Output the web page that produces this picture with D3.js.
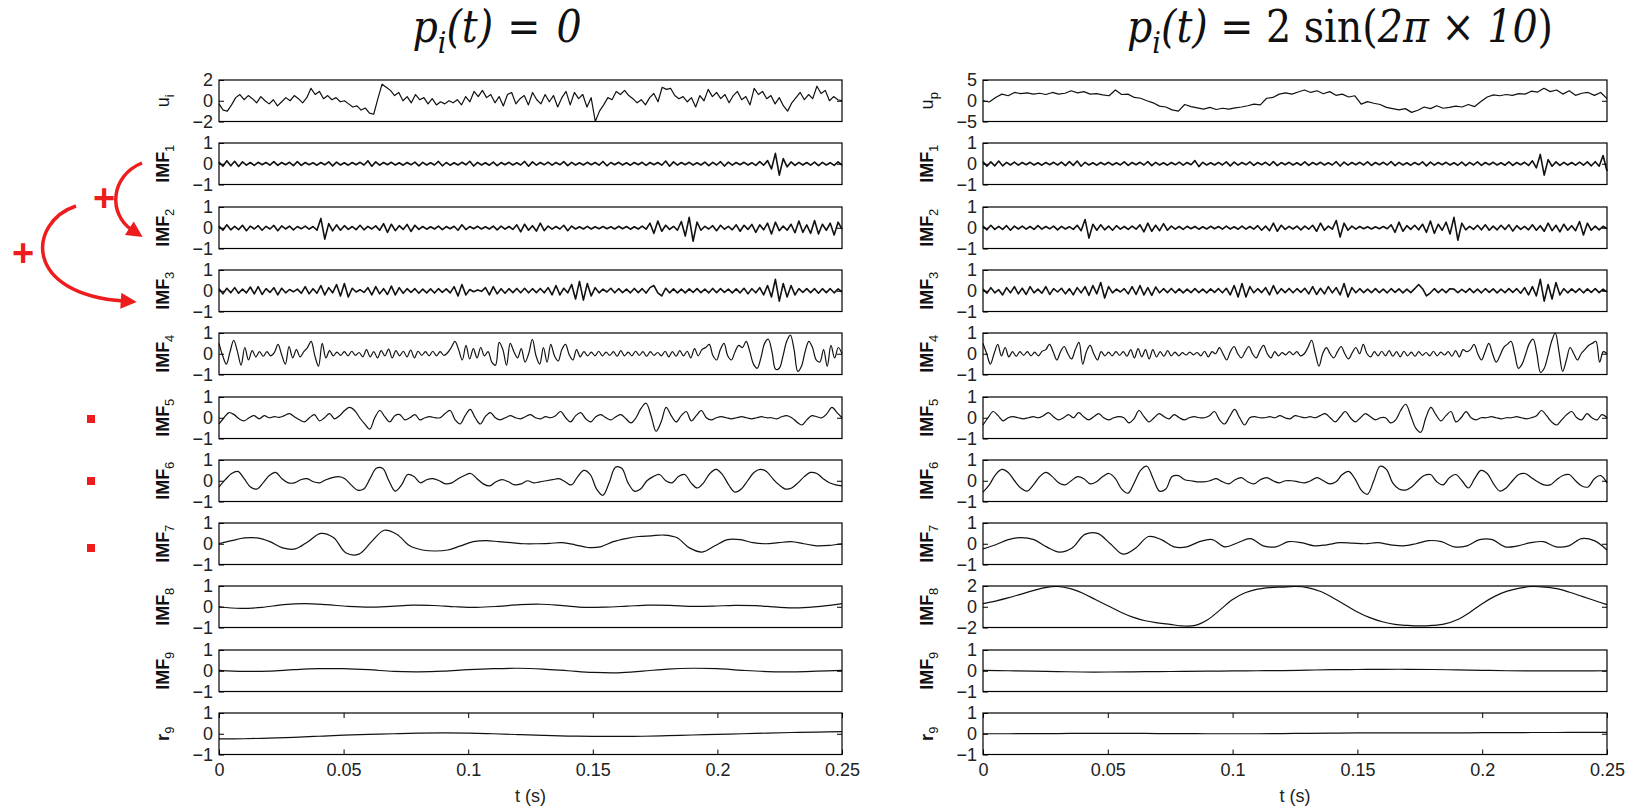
<!DOCTYPE html>
<html>
<head>
<meta charset="utf-8">
<script src="https://cdn.jsdelivr.net/npm/d3@7"></script>
<style>
  body { margin: 0; background: #fff; }
  svg { display: block; }
</style>
</head>
<body>
<script>
var W = 1630, H = 806;

// time axis
var tDomain = [0, 0.25];
var xTicks = [0, 0.05, 0.1, 0.15, 0.2, 0.25];
var xTickLabels = ['0', '0.05', '0.1', '0.15', '0.2', '0.25'];

// ---- left column, p_i(t) = 0 ----
var uLeft = [-0.3,-0.9,-1.0,-0.4,0.3,0.6,0.1,0.5,0.2,-0.2,
  0.4,0.0,-0.3,0.1,-0.5,-0.1,0.3,0.0,0.5,0.2,
  -0.2,0.3,1.2,0.6,0.9,0.2,0.5,0.1,0.3,-0.1,
  0.0,-0.3,-0.6,-0.5,-0.9,-0.7,-1.2,-1.3,0.2,1.6,
  1.3,1.0,0.5,0.8,0.0,0.4,-0.2,0.6,0.1,0.3,
  -0.3,0.2,-0.4,-0.1,-0.3,0.0,-0.2,0.1,-0.4,0.4,
  -0.1,0.9,0.4,1.0,0.3,0.6,-0.2,0.4,-0.5,0.6,
  0.8,-0.3,0.2,0.5,-0.4,0.8,0.1,-0.3,0.6,-0.1,
  0.5,-0.6,0.3,0.9,-0.4,0.8,0.2,0.6,-0.6,0.3,
  -2.0,-1.0,-0.4,0.3,0.1,0.9,0.6,1.0,0.5,0.2,
  -0.2,0.1,-0.4,0.3,0.7,-0.1,1.3,1.1,1.2,0.5,
  0.2,0.4,-0.1,0.3,-0.6,0.5,0.0,1.1,0.4,0.8,
  0.2,0.6,-0.2,0.5,0.9,0.1,0.4,-0.4,1.2,0.6,
  0.9,0.2,0.5,-0.3,0.3,-0.5,-1.0,-0.2,0.3,0.8,
  0.1,0.6,0.2,1.4,0.7,1.0,0.0,0.4,0.1,0.0];

var imf1Left = [0.08,-0.12,0.14,-0.1,0.12,-0.13,0.09,-0.07,0.06,-0.08,
  0.07,-0.05,0.06,-0.07,0.1,-0.08,0.06,-0.05,0.07,-0.09,
  0.1,-0.08,0.06,-0.05,0.05,-0.07,0.06,-0.05,0.09,-0.1,
  0.08,-0.06,0.05,-0.07,0.06,-0.05,0.07,-0.06,0.14,-0.12,
  0.09,-0.07,0.06,-0.05,0.07,-0.06,0.05,-0.07,0.06,-0.05,
  0.08,-0.1,0.07,-0.06,0.05,-0.06,0.11,-0.1,0.06,-0.07,
  0.05,-0.06,0.07,-0.05,0.12,-0.11,0.07,-0.06,0.05,-0.07,
  0.08,-0.09,0.06,-0.05,0.07,-0.06,0.05,-0.06,0.11,-0.12,
  0.09,-0.07,0.06,-0.05,0.08,-0.07,0.06,-0.05,0.1,-0.09,
  0.07,-0.06,0.05,-0.06,0.07,-0.05,0.06,-0.07,0.11,-0.1,
  0.06,-0.05,0.07,-0.06,0.05,-0.07,0.06,-0.05,0.07,-0.08,
  0.06,-0.05,0.06,-0.07,0.13,-0.12,0.09,-0.07,0.06,-0.05,
  0.07,-0.06,0.05,-0.06,0.08,-0.09,0.07,-0.06,0.1,-0.11,
  0.08,-0.07,0.06,-0.05,0.07,-0.06,0.05,-0.08,0.1,-0.07,
  0.15,-0.25,0.5,-0.55,0.25,-0.15,0.09,-0.08,0.07,-0.06,
  0.06,-0.07,0.08,-0.09,0.07,-0.06,0.05,-0.08,0.09,-0.07];

var imf2Left = [0.08,-0.12,0.14,-0.1,0.07,-0.09,0.12,-0.14,0.08,-0.06,
  0.1,-0.12,0.07,-0.06,0.11,-0.14,0.09,-0.06,0.08,-0.1,
  0.06,-0.05,0.08,-0.07,0.06,-0.12,0.45,-0.55,0.2,-0.15,
  0.14,-0.12,0.1,-0.08,0.06,-0.09,0.12,-0.1,0.07,-0.06,
  0.09,-0.12,0.2,-0.22,0.17,-0.14,0.1,-0.08,0.16,-0.18,
  0.12,-0.08,0.06,-0.07,0.05,-0.06,0.08,-0.09,0.06,-0.05,
  0.07,-0.12,0.14,-0.09,0.06,-0.05,0.07,-0.06,0.05,-0.06,
  0.08,-0.1,0.08,-0.07,0.06,-0.08,0.14,-0.2,0.17,-0.12,
  0.1,-0.16,0.22,-0.14,0.08,-0.07,0.06,-0.06,0.12,-0.14,
  0.08,-0.06,0.05,-0.06,0.07,-0.06,0.05,-0.05,0.06,-0.05,
  0.05,-0.06,0.07,-0.05,0.06,-0.07,0.05,-0.06,0.08,-0.07,
  0.22,-0.27,0.32,-0.17,0.12,-0.08,0.07,-0.12,0.3,-0.4,
  0.5,-0.65,0.27,-0.12,0.07,-0.06,0.1,-0.14,0.12,-0.07,
  0.07,-0.1,0.14,-0.17,0.12,-0.08,0.16,-0.22,0.14,-0.1,
  0.22,-0.3,0.27,-0.14,0.08,-0.12,0.17,-0.24,0.32,-0.22,
  0.14,-0.27,0.35,-0.3,0.17,-0.12,0.22,-0.35,0.27,-0.07];

var imf3Left = [0.1,-0.15,0.12,-0.1,0.15,-0.12,0.08,-0.1,0.18,-0.15,
  0.2,-0.18,0.1,-0.08,0.15,-0.2,0.12,-0.1,0.06,-0.05,
  0.08,-0.12,0.2,-0.15,0.1,-0.12,0.25,-0.2,0.15,-0.1,
  0.3,-0.25,0.35,-0.3,0.12,-0.06,0.05,-0.08,0.15,-0.2,
  0.2,-0.15,0.1,-0.18,0.22,-0.2,0.15,-0.12,0.1,-0.08,
  0.1,-0.12,0.08,-0.1,0.09,-0.11,0.1,-0.08,0.09,-0.1,
  0.2,-0.25,0.3,-0.2,0.06,-0.05,0.04,-0.03,0.15,-0.2,
  0.2,-0.15,0.1,-0.12,0.1,-0.09,0.11,-0.1,0.12,-0.1,
  0.1,-0.09,0.11,-0.1,0.15,-0.2,0.25,-0.2,0.12,-0.1,
  0.3,-0.4,0.45,-0.45,0.35,-0.25,0.15,-0.1,0.08,-0.06,
  0.12,-0.1,0.1,-0.09,0.08,-0.1,0.11,-0.09,0.1,-0.11,
  0.15,0.25,-0.1,-0.25,0.12,-0.1,0.09,-0.1,0.08,-0.1,
  0.09,-0.08,0.1,-0.09,0.08,-0.1,0.11,-0.09,0.1,-0.08,
  0.08,-0.1,0.09,-0.1,0.12,-0.15,0.1,-0.1,0.15,-0.2,
  0.25,-0.3,0.55,-0.5,0.35,-0.3,0.25,-0.2,0.1,-0.08,
  0.1,-0.09,0.1,-0.12,0.1,-0.09,0.1,-0.1,0.09,-0.06];

var imf4Left = [0.5,-0.1,-0.5,0.1,0.65,0.1,-0.55,0.3,-0.3,0.15,
  -0.15,0.1,-0.12,0.1,-0.1,0.05,0.45,-0.05,-0.5,0.35,
  -0.2,0.2,-0.15,0.1,0.3,0.6,-0.1,-0.6,0.5,-0.2,
  0.15,-0.1,0.08,-0.08,0.1,-0.1,0.12,-0.08,0.06,-0.15,
  0.2,-0.15,0.1,-0.2,0.15,-0.1,0.22,-0.2,0.15,-0.1,
  0.12,-0.15,0.18,-0.2,0.12,-0.08,0.1,-0.1,0.12,-0.1,
  0.1,-0.08,0.05,0.3,0.6,0.2,-0.3,0.4,-0.25,0.25,
  -0.2,0.3,-0.1,0.1,-0.4,-0.55,0.55,0.2,-0.55,0.5,
  0.1,-0.2,0.25,-0.4,0.0,0.7,-0.1,-0.5,0.3,-0.4,
  0.45,-0.1,-0.35,0.2,0.45,-0.05,-0.3,0.2,-0.15,0.1,
  -0.1,0.08,-0.1,0.12,-0.1,0.08,-0.08,0.1,-0.12,0.15,
  -0.1,0.08,-0.1,0.12,-0.08,0.1,-0.12,0.1,-0.08,0.06,
  -0.1,0.12,-0.15,0.1,-0.12,0.15,-0.1,0.12,-0.2,0.25,
  -0.1,0.2,0.3,0.45,-0.1,-0.3,0.2,0.5,-0.1,-0.3,
  0.1,0.4,0.3,0.6,0.1,-0.5,-0.7,-0.2,0.5,0.7,
  0.1,-0.75,-0.7,-0.1,0.6,0.9,0.2,-0.85,-0.6,0.1,
  0.6,0.3,-0.3,-0.4,0.2,-0.6,0.4,-0.2,0.3,0.0];

var imf5Left = [-0.3,0.0,0.25,0.15,-0.05,-0.15,0.0,0.1,-0.05,0.1,
  0.0,0.05,0.02,0.1,0.2,0.05,-0.1,-0.2,0.0,0.15,
  -0.15,0.0,0.2,-0.05,0.1,0.35,0.5,0.35,0.0,-0.3,
  -0.55,0.0,0.35,0.05,-0.2,0.1,0.15,-0.1,0.0,0.15,
  -0.1,0.0,0.05,0.0,0.0,0.2,0.35,-0.1,-0.3,0.1,
  0.4,0.0,-0.3,0.05,0.25,0.0,-0.1,0.0,0.1,0.0,
  -0.05,0.05,0.15,0.0,-0.05,0.05,0.0,0.1,0.3,0.0,
  -0.2,0.1,0.25,-0.05,-0.2,0.05,0.15,0.0,-0.1,0.05,
  0.15,-0.05,-0.25,0.0,0.45,0.7,0.1,-0.65,-0.2,0.5,
  0.1,-0.2,0.1,0.3,-0.15,0.1,0.35,0.0,-0.1,0.0,
  0.05,0.0,-0.05,0.0,0.05,0.0,-0.05,0.0,0.05,0.0,
  0.0,-0.05,0.05,0.1,0.0,-0.2,-0.35,-0.1,0.1,0.05,
  0.0,0.2,0.5,0.25,0.0];

var imf6Left = [-0.3,0.05,0.35,0.45,0.1,-0.3,-0.4,-0.1,0.25,0.4,
  0.1,-0.1,-0.1,0.05,0.1,-0.05,-0.1,0.05,0.15,0.2,
  0.1,-0.2,-0.45,-0.4,0.1,0.6,0.6,0.0,-0.5,-0.2,
  0.3,0.2,-0.1,0.05,0.1,0.0,-0.15,-0.1,0.1,0.25,
  0.35,0.1,-0.15,-0.25,-0.05,0.05,-0.05,-0.2,-0.15,0.0,
  -0.1,-0.05,0.0,0.05,0.1,-0.05,-0.2,0.2,0.5,0.3,
  -0.4,-0.7,-0.1,0.65,0.6,-0.1,-0.5,-0.4,0.0,0.2,
  0.3,0.0,-0.1,0.2,0.3,-0.1,-0.35,-0.1,0.35,0.55,
  0.3,-0.2,-0.55,-0.4,0.0,0.4,0.55,0.45,0.1,-0.2,
  -0.4,-0.35,-0.1,0.2,0.4,0.35,0.1,-0.1,-0.2,-0.25];

var imf7Left = [0.0,0.15,0.28,0.28,0.1,-0.2,-0.25,0.1,0.5,0.3,
  -0.45,-0.5,0.1,0.65,0.45,-0.1,-0.3,-0.35,-0.3,-0.1,
  0.1,0.15,0.1,0.05,0.0,0.0,0.02,0.05,-0.05,-0.18,
  -0.15,0.1,0.25,0.35,0.38,0.42,0.3,-0.2,-0.4,-0.1,
  0.2,0.2,0.05,0.0,0.05,0.1,0.0,-0.1,-0.08,0.0];

var imf8Left = [0.0,-0.08,-0.03,0.1,0.15,0.1,0.02,-0.02,0.02,0.08,
  0.06,0.0,-0.03,0.02,0.1,0.12,0.05,-0.03,-0.02,0.03,
  0.08,0.07,0.02,0.03,0.07,0.05,-0.02,-0.05,0.02,0.15];

var imf9Left = [0.02,-0.03,-0.02,0.05,0.1,0.1,0.05,-0.03,-0.05,-0.02,
  0.05,0.1,0.12,0.08,0.0,-0.08,-0.1,-0.02,0.08,0.12,
  0.1,0.02,-0.04,-0.05,-0.02,0.02];

var resLeft = [-0.25,-0.24,-0.21,-0.17,-0.12,-0.07,-0.03,0.0,0.03,0.04,
  0.03,0.0,-0.04,-0.08,-0.11,-0.13,-0.13,-0.12,-0.09,-0.06,
  -0.03,0.0,0.03,0.06,0.08,0.1];

// ---- right column, p_i(t) = 2 sin(2 pi 10 t) ----
var uRight = [0.0,-0.3,0.8,1.6,1.2,2.0,1.7,1.9,1.6,1.8,
  1.5,2.0,1.6,1.8,2.4,1.9,2.2,1.6,1.7,1.4,
  1.2,2.6,1.5,1.6,0.8,0.6,0.0,-0.5,-1.3,-1.5,
  -2.2,-2.5,-0.9,-1.4,-1.7,-2.0,-1.6,-2.1,-1.8,-2.0,
  -1.7,-1.5,-1.2,-0.8,-1.0,0.6,0.8,1.6,1.9,1.6,
  2.1,2.6,2.0,2.4,1.7,2.2,1.3,1.6,0.9,1.2,
  -0.8,-0.2,-0.6,-0.9,-1.6,-1.9,-2.2,-1.9,-2.8,-2.3,
  -1.5,-1.9,-1.2,-1.8,-1.6,-1.3,-1.5,-0.9,-1.4,-0.2,
  0.9,1.4,1.2,1.5,1.3,1.7,1.6,2.3,2.1,3.0,
  2.2,2.6,1.6,2.4,1.3,1.8,2.0,1.3,2.0,0.5];

var imf1Right = [0.1,-0.12,0.09,-0.1,0.13,-0.1,0.07,-0.06,0.08,-0.07,
  0.06,-0.05,0.07,-0.06,0.05,-0.07,0.06,-0.05,0.07,-0.06,
  0.08,-0.09,0.1,-0.08,0.13,-0.12,0.07,-0.06,0.05,-0.07,
  0.06,-0.05,0.07,-0.06,0.05,-0.06,0.09,-0.08,0.06,-0.05,
  0.07,-0.06,0.1,-0.09,0.07,-0.06,0.05,-0.07,0.06,-0.05,
  0.08,-0.07,0.06,-0.05,0.15,-0.14,0.07,-0.06,0.05,-0.06,
  0.07,-0.06,0.09,-0.1,0.08,-0.07,0.06,-0.05,0.09,-0.08,
  0.06,-0.05,0.07,-0.08,0.1,-0.09,0.06,-0.05,0.07,-0.06,
  0.05,-0.07,0.09,-0.08,0.06,-0.05,0.07,-0.06,0.05,-0.06,
  0.1,-0.11,0.08,-0.07,0.06,-0.05,0.07,-0.06,0.09,-0.08,
  0.06,-0.05,0.07,-0.06,0.1,-0.09,0.07,-0.06,0.05,-0.07,
  0.06,-0.05,0.09,-0.1,0.08,-0.07,0.06,-0.05,0.07,-0.06,
  0.05,-0.07,0.08,-0.09,0.07,-0.06,0.09,-0.08,0.06,-0.05,
  0.07,-0.06,0.05,-0.07,0.09,-0.08,0.06,-0.05,0.07,-0.08,
  0.14,-0.2,0.45,-0.55,0.2,-0.12,0.09,-0.08,0.07,-0.06,
  0.06,-0.07,0.08,-0.07,0.09,-0.1,0.1,-0.12,0.4,-0.35];

var imf2Right = [0.08,-0.1,0.12,-0.08,0.07,-0.08,0.1,-0.12,0.08,-0.06,
  0.08,-0.07,0.06,-0.08,0.1,-0.07,0.06,-0.05,0.08,-0.1,
  0.07,-0.06,0.05,-0.08,0.12,-0.14,0.4,-0.5,0.17,-0.12,
  0.14,-0.1,0.08,-0.12,0.1,-0.07,0.06,-0.08,0.08,-0.07,
  0.14,-0.2,0.22,-0.17,0.12,-0.14,0.2,-0.12,0.08,-0.07,
  0.06,-0.08,0.07,-0.05,0.06,-0.07,0.05,-0.06,0.07,-0.05,
  0.06,-0.07,0.08,-0.06,0.05,-0.07,0.08,-0.07,0.06,-0.07,
  0.1,-0.12,0.08,-0.14,0.22,-0.17,0.12,-0.08,0.07,-0.06,
  0.08,-0.1,0.08,-0.07,0.12,-0.17,0.22,-0.12,0.08,-0.07,
  0.35,-0.45,0.22,-0.12,0.08,-0.07,0.06,-0.05,0.05,-0.06,
  0.05,-0.05,0.06,-0.05,0.14,-0.22,0.27,-0.17,0.1,-0.08,
  0.12,-0.1,0.17,-0.22,0.32,-0.27,0.17,-0.12,0.27,-0.3,
  0.5,-0.6,0.22,-0.1,0.07,-0.08,0.12,-0.1,0.14,-0.12,
  0.08,-0.1,0.12,-0.08,0.14,-0.16,0.1,-0.08,0.07,-0.1,
  0.14,-0.12,0.1,-0.17,0.22,-0.14,0.12,-0.2,0.17,-0.12,
  0.1,-0.14,0.3,-0.35,0.22,-0.12,0.08,-0.1,0.07,-0.05];

var imf3Right = [0.08,-0.12,0.15,-0.1,0.05,-0.2,0.15,-0.1,0.2,-0.15,
  0.12,-0.18,0.2,-0.1,0.08,-0.12,0.2,-0.18,0.1,-0.06,
  0.12,-0.15,0.1,-0.2,0.15,-0.1,0.2,-0.22,0.25,-0.15,
  0.4,-0.35,0.2,-0.1,0.08,-0.06,0.1,-0.15,0.2,-0.18,
  0.25,-0.2,0.15,-0.22,0.18,-0.1,0.1,-0.09,0.11,-0.1,
  0.09,-0.1,0.08,-0.09,0.1,-0.09,0.08,-0.1,0.09,-0.08,
  0.1,-0.1,0.12,-0.2,0.25,-0.3,0.35,-0.3,0.2,-0.1,
  0.1,-0.09,0.15,-0.2,0.25,-0.15,0.1,-0.09,0.11,-0.1,
  0.1,-0.08,0.12,-0.15,0.2,-0.18,0.12,-0.15,0.2,-0.1,
  0.15,-0.2,0.35,-0.3,0.15,-0.1,0.1,-0.09,0.08,-0.09,
  0.1,-0.09,0.08,-0.1,0.1,-0.08,0.09,-0.1,0.08,-0.09,
  0.1,0.3,0.1,-0.25,-0.1,0.1,-0.09,0.08,-0.09,0.1,
  0.08,-0.09,0.07,-0.08,0.1,-0.09,0.08,-0.1,0.1,-0.08,
  0.09,-0.1,0.08,-0.09,0.1,-0.08,0.1,-0.12,0.15,-0.2,
  0.2,-0.25,0.55,-0.5,0.3,-0.4,0.4,-0.2,0.1,-0.1,
  0.09,-0.08,0.1,-0.1,0.09,-0.08,0.1,-0.09,0.08,-0.05];

var imf4Right = [0.5,0.0,-0.5,0.0,0.45,-0.1,0.3,-0.15,0.1,-0.12,
  0.1,-0.08,0.1,-0.1,0.08,-0.1,0.12,0.2,0.45,0.1,
  -0.3,0.1,0.35,0.0,-0.25,0.2,0.55,-0.5,0.1,0.4,
  0.0,-0.3,0.1,-0.1,0.08,-0.1,0.1,-0.08,0.1,-0.12,
  0.2,-0.2,0.25,-0.15,0.2,-0.25,0.2,-0.15,0.1,-0.12,
  0.15,-0.1,0.08,-0.1,0.05,-0.06,0.08,-0.05,0.06,-0.1,
  0.12,-0.15,0.1,0.0,0.3,0.0,-0.3,0.1,0.35,0.0,
  -0.2,0.1,0.35,0.0,-0.2,0.15,0.4,0.0,-0.2,0.1,
  -0.1,0.05,-0.05,0.1,-0.05,0.1,-0.1,0.0,0.3,0.65,
  0.0,-0.6,0.0,0.3,0.0,-0.2,0.1,0.35,0.0,-0.25,
  0.05,0.3,0.0,0.45,0.0,-0.15,0.1,-0.1,0.12,-0.1,
  0.15,-0.12,0.1,-0.15,0.12,-0.1,0.08,-0.12,0.1,-0.08,
  0.06,-0.1,0.12,-0.1,0.08,-0.06,0.1,-0.12,0.15,-0.15,
  0.2,0.1,0.2,0.45,0.0,-0.3,0.1,0.5,0.0,-0.4,
  -0.1,0.3,0.45,0.6,0.0,-0.7,-0.5,0.0,0.5,0.7,
  0.0,-0.9,-0.7,-0.1,0.6,1.0,0.1,-0.85,-0.3,0.3,
  0.0,-0.3,0.0,0.2,0.4,0.5,0.6,-0.4,0.1,0.0];

var imf5Right = [-0.35,0.0,0.3,0.1,-0.15,0.0,0.05,0.0,-0.05,0.0,
  0.05,0.0,0.1,0.25,0.05,-0.1,0.0,0.15,0.0,0.25,
  0.05,-0.1,0.05,0.2,0.0,-0.1,0.0,0.05,0.0,-0.25,
  -0.05,0.35,0.05,-0.2,0.0,0.2,0.05,-0.05,0.15,0.0,
  -0.1,0.0,0.05,0.0,0.0,0.1,0.3,-0.1,-0.3,0.05,
  0.4,0.0,-0.35,0.0,0.05,0.0,0.0,0.05,0.0,0.1,
  0.0,-0.05,0.1,0.05,0.0,0.05,0.0,0.1,0.2,0.0,
  -0.2,0.05,0.3,0.0,-0.2,0.0,0.2,0.05,-0.1,0.0,
  0.0,-0.25,-0.1,0.35,0.65,0.1,-0.5,-0.7,0.0,0.5,
  0.15,-0.15,0.1,0.3,-0.2,0.0,0.3,0.0,-0.1,0.0,
  0.0,0.05,0.0,-0.05,0.0,0.0,0.05,0.0,-0.05,0.0,
  0.1,0.35,0.1,-0.2,-0.35,-0.1,0.15,0.3,0.0,-0.1,
  0.2,0.0,-0.1,0.15,0.0];

var imf6Right = [-0.55,-0.2,0.3,0.55,0.4,0.0,-0.35,-0.5,-0.2,0.2,
  0.4,0.2,-0.1,-0.2,0.0,0.2,0.1,-0.15,-0.05,0.2,
  0.35,0.1,-0.4,-0.6,-0.1,0.5,0.7,0.1,-0.5,-0.4,
  0.2,0.25,0.05,0.0,-0.05,-0.05,0.0,0.1,-0.05,-0.15,
  0.05,0.15,-0.05,-0.15,0.05,0.15,0.0,-0.1,0.0,0.0,
  -0.05,-0.1,0.0,0.15,0.0,-0.15,-0.05,0.3,0.45,0.1,
  -0.45,-0.65,0.0,0.7,0.55,-0.1,-0.4,-0.45,-0.3,0.0,
  0.25,0.3,-0.05,-0.2,0.15,0.3,0.0,-0.35,0.1,0.5,
  0.35,-0.15,-0.5,-0.35,0.0,0.3,0.35,0.15,-0.05,-0.2,
  -0.2,0.05,0.25,0.3,0.0,-0.25,-0.3,0.1,0.25,-0.1];

var imf7Right = [-0.25,-0.05,0.2,0.3,0.2,-0.15,-0.4,-0.2,0.45,0.5,
  0.0,-0.5,-0.2,0.35,0.2,-0.15,-0.15,0.1,0.2,-0.15,
  0.05,0.25,-0.1,-0.15,0.1,0.05,-0.1,-0.05,0.05,0.03,
  0.0,0.05,-0.05,-0.1,0.0,0.15,0.1,-0.15,-0.1,0.2,
  0.2,-0.15,-0.1,0.05,0.1,-0.15,-0.1,0.25,0.15,-0.3];

var imf8Right = [0.3,0.55,0.85,1.2,1.55,1.85,1.95,1.75,1.3,0.7,
  0.1,-0.5,-1.0,-1.35,-1.55,-1.7,-1.85,-1.8,-1.25,-0.3,
  0.7,1.35,1.7,1.85,1.9,1.95,1.85,1.5,0.9,0.2,
  -0.5,-1.05,-1.45,-1.7,-1.8,-1.85,-1.8,-1.65,-1.25,-0.55,
  0.3,1.0,1.5,1.8,1.95,1.9,1.75,1.4,1.0,0.6,0.2];

var imf9Right = [0.02,0.0,-0.02,-0.04,-0.06,-0.06,-0.05,-0.04,-0.03,-0.02,
  -0.01,0.0,0.01,0.03,0.05,0.06,0.07,0.07,0.06,0.04,
  0.02,0.0,-0.01,-0.01,-0.01,0.0];

var resRight = [0.0,0.0,0.01,0.01,0.02,0.02,0.02,0.01,0.01,0.0,
  0.0,0.0,0.01,0.02,0.03,0.04,0.04,0.04,0.04,0.04,
  0.05,0.05,0.06,0.06,0.07,0.07];

// panel lists (label, subscript, samples, y-limit)
var leftPanels = [
  {name: 'u', sub: 'i', values: uLeft, lim: 2, bold: false, kind: 'raw'},
  {name: 'IMF', sub: '1', values: imf1Left, lim: 1, bold: true, kind: 'fast'},
  {name: 'IMF', sub: '2', values: imf2Left, lim: 1, bold: true, kind: 'fast'},
  {name: 'IMF', sub: '3', values: imf3Left, lim: 1, bold: true, kind: 'fast'},
  {name: 'IMF', sub: '4', values: imf4Left, lim: 1, bold: true, kind: 'smooth'},
  {name: 'IMF', sub: '5', values: imf5Left, lim: 1, bold: true, kind: 'smooth'},
  {name: 'IMF', sub: '6', values: imf6Left, lim: 1, bold: true, kind: 'smooth'},
  {name: 'IMF', sub: '7', values: imf7Left, lim: 1, bold: true, kind: 'smooth'},
  {name: 'IMF', sub: '8', values: imf8Left, lim: 1, bold: true, kind: 'smooth'},
  {name: 'IMF', sub: '9', values: imf9Left, lim: 1, bold: true, kind: 'smooth'},
  {name: 'r', sub: '9', values: resLeft, lim: 1, bold: true, kind: 'smooth'}
];
var rightPanels = [
  {name: 'u', sub: 'p', values: uRight, lim: 5, bold: false, kind: 'raw'},
  {name: 'IMF', sub: '1', values: imf1Right, lim: 1, bold: true, kind: 'fast'},
  {name: 'IMF', sub: '2', values: imf2Right, lim: 1, bold: true, kind: 'fast'},
  {name: 'IMF', sub: '3', values: imf3Right, lim: 1, bold: true, kind: 'fast'},
  {name: 'IMF', sub: '4', values: imf4Right, lim: 1, bold: true, kind: 'smooth'},
  {name: 'IMF', sub: '5', values: imf5Right, lim: 1, bold: true, kind: 'smooth'},
  {name: 'IMF', sub: '6', values: imf6Right, lim: 1, bold: true, kind: 'smooth'},
  {name: 'IMF', sub: '7', values: imf7Right, lim: 1, bold: true, kind: 'smooth'},
  {name: 'IMF', sub: '8', values: imf8Right, lim: 2, bold: true, kind: 'smooth'},
  {name: 'IMF', sub: '9', values: imf9Right, lim: 1, bold: true, kind: 'smooth'},
  {name: 'r', sub: '9', values: resRight, lim: 1, bold: true, kind: 'smooth'}
];

// layout
var firstTop = 80, step = 63.3, panelH = 41.5;
var tickFont = '"Liberation Sans Narrow", "Arial Narrow", "Liberation Sans", sans-serif';
var labelFont = '"Liberation Sans", Arial, sans-serif';
var red = '#ee1c1c';
var strokeW = {raw: 1.2, fast: 1.6, smooth: 1.2};

var svg = d3.select('body').append('svg')
    .attr('width', W)
    .attr('height', H);

function drawColumn(panels, x0, x1) {
  var x = d3.scaleLinear().domain(tDomain).range([x0, x1]);

  panels.forEach(function (p, i) {
    var top = Math.round(firstTop + i * step);
    var y = d3.scaleLinear().domain([-p.lim, p.lim]).range([top + panelH, top]);
    var g = svg.append('g');
    var n = p.values.length;

    var line = d3.line()
        .x(function (d, k) { return x(tDomain[1] * k / (n - 1)); })
        .y(function (d) { return y(d); })
        .curve(p.kind == 'smooth' ? d3.curveCatmullRom.alpha(0.5) : d3.curveLinear);

    g.append('path')
        .datum(p.values)
        .attr('d', line)
        .attr('fill', 'none')
        .attr('stroke', '#111')
        .attr('stroke-width', strokeW[p.kind])
        .attr('stroke-linejoin', 'round');

    // y axis, matlab style ticks inside
    var yl = g.append('g')
        .attr('transform', 'translate(' + x0 + ',0)')
        .call(d3.axisLeft(y).tickValues([-p.lim, 0, p.lim]).tickSize(-5).tickPadding(6)
          .tickFormat(d3.format('d')));
    var yr = g.append('g')
        .attr('transform', 'translate(' + x1 + ',0)')
        .call(d3.axisRight(y).tickValues([0]).tickSize(-5).tickFormat(''));
    [yl, yr].forEach(function (a) {
      a.select('.domain').remove();
      a.selectAll('line').attr('stroke', '#000');
      a.selectAll('text')
          .style('font-family', tickFont)
          .style('font-size', '18px')
          .attr('fill', '#222');
    });

    // box
    g.append('rect')
        .attr('x', x0)
        .attr('y', top)
        .attr('width', x1 - x0)
        .attr('height', panelH)
        .attr('fill', 'none')
        .attr('stroke', '#000')
        .attr('stroke-width', 1.2);

    // rotated label with subscript
    var lab = g.append('text')
        .attr('transform', 'translate(' + (x0 - 50) + ',' + (top + panelH / 2) + ') rotate(-90)')
        .attr('text-anchor', 'middle')
        .style('font-family', labelFont)
        .style('font-size', '18px')
        .style('font-weight', p.bold ? 'bold' : 'normal')
        .attr('fill', '#111');
    lab.append('tspan').text(p.name);
    lab.append('tspan').attr('dy', 5).style('font-size', '13px').style('font-weight', 'normal').text(p.sub);

    // x axis only on the last panel
    if (i == panels.length - 1) {
      var xb = g.append('g')
          .attr('transform', 'translate(0,' + (top + panelH) + ')')
          .call(d3.axisBottom(x).tickValues(xTicks).tickSize(-5).tickPadding(9)
            .tickFormat(function (d, k) { return xTickLabels[k]; }));
      var xt = g.append('g')
          .attr('transform', 'translate(0,' + top + ')')
          .call(d3.axisTop(x).tickValues(xTicks).tickSize(-5).tickFormat(''));
      [xb, xt].forEach(function (a) {
        a.select('.domain').remove();
        a.selectAll('line').attr('stroke', '#000');
        a.selectAll('text')
            .style('font-family', tickFont)
            .style('font-size', '18px')
            .attr('fill', '#222');
      });
      g.append('text')
          .attr('x', (x0 + x1) / 2)
          .attr('y', top + panelH + 47)
          .attr('text-anchor', 'middle')
          .style('font-family', tickFont)
          .style('font-size', '18px')
          .attr('fill', '#222')
          .text('t (s)');
    }
  });
}

drawColumn(leftPanels, 219, 842);
drawColumn(rightPanels, 983, 1607);

// titles
var titleFont = '"DejaVu Serif Condensed", "DejaVu Serif", serif';
var t1 = svg.append('text')
    .attr('x', 497).attr('y', 42)
    .attr('text-anchor', 'middle')
    .style('font-family', titleFont)
    .style('font-size', '44px')
    .attr('fill', '#111');
t1.append('tspan').style('font-style', 'italic').text('p');
t1.append('tspan').style('font-style', 'italic').style('font-size', '30px').attr('dy', 11).text('i');
t1.append('tspan').style('font-style', 'italic').attr('dy', -11).text('(t)');
t1.append('tspan').style('font-style', 'italic').attr('dx', 14).text('=');
t1.append('tspan').style('font-style', 'italic').attr('dx', 16).text('0');

var t2 = svg.append('text')
    .attr('x', 1340).attr('y', 42)
    .attr('text-anchor', 'middle')
    .style('font-family', titleFont)
    .style('font-size', '44px')
    .attr('fill', '#111');
t2.append('tspan').style('font-style', 'italic').text('p');
t2.append('tspan').style('font-style', 'italic').style('font-size', '30px').attr('dy', 11).text('i');
t2.append('tspan').style('font-style', 'italic').attr('dy', -11).text('(t) = ');
t2.append('tspan').text('2 sin(');
t2.append('tspan').style('font-style', 'italic').text('2\u03c0 \u00d7 10');
t2.append('tspan').text(')');

// red annotations
var defs = svg.append('defs');
defs.append('marker')
    .attr('id', 'head')
    .attr('viewBox', '0 0 10 10')
    .attr('refX', 2)
    .attr('refY', 5)
    .attr('markerWidth', 20)
    .attr('markerHeight', 16)
    .attr('markerUnits', 'userSpaceOnUse')
    .attr('orient', 'auto')
    .append('path')
    .attr('d', 'M0,0 L10,5 L0,10 z')
    .attr('fill', red);

svg.append('path')
    .attr('d', 'M142,163 C110,176 108,214 132,230')
    .attr('fill', 'none')
    .attr('stroke', red)
    .attr('stroke-width', 3.5)
    .attr('marker-end', 'url(#head)');
svg.append('path')
    .attr('d', 'M76,206 C28,222 22,294 124,301')
    .attr('fill', 'none')
    .attr('stroke', red)
    .attr('stroke-width', 3.5)
    .attr('marker-end', 'url(#head)');

[[104, 211], [23, 266]].forEach(function (p) {
  svg.append('text')
      .attr('x', p[0]).attr('y', p[1])
      .attr('text-anchor', 'middle')
      .style('font-family', labelFont)
      .style('font-size', '38px')
      .style('font-weight', 'bold')
      .attr('fill', red)
      .text('+');
});

[419, 481, 548].forEach(function (cy) {
  svg.append('rect')
      .attr('x', 87).attr('y', cy - 4)
      .attr('width', 8).attr('height', 8)
      .attr('fill', red);
});
</script>
</body>
</html>
